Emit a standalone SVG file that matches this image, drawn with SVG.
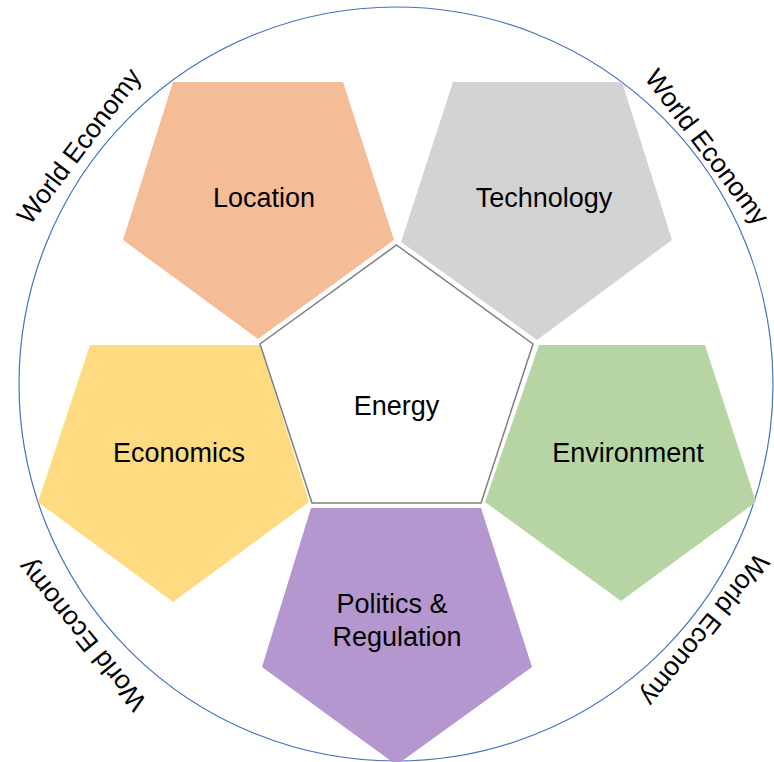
<svg xmlns="http://www.w3.org/2000/svg" width="774" height="762" viewBox="0 0 774 762">
  <style>
    .lbl { font-family: "Liberation Sans", Arial, Helvetica, sans-serif; font-size: 27px; fill: #000; text-anchor: middle; }
    .ring { font-family: "Liberation Sans", Arial, Helvetica, sans-serif; font-size: 26.5px; fill: #000; text-anchor: middle; dominant-baseline: central; }
    .pent { stroke: none; }
  </style>
  <rect width="774" height="762" fill="#ffffff"/>

  <!-- outer ring -->
  <g id="world-economy">
    <circle cx="396" cy="384" r="377" fill="none" stroke="#4472C4" stroke-width="1.2"/>
    <text class="ring" transform="translate(79,146) rotate(-53)">World Economy</text>
    <text class="ring" transform="translate(707,147) rotate(53)">World Economy</text>
    <text class="ring" transform="translate(82,635) rotate(-129)">World Economy</text>
    <text class="ring" transform="translate(705,630) rotate(129)">World Economy</text>
  </g>

  <g id="location">
    <polygon class="pent" fill="#F5BD97" points="173,82 343,82 394,240 258,339 123,240"/>
    <text class="lbl" x="264" y="207">Location</text>
  </g>

  <g id="technology">
    <polygon class="pent" fill="#D3D3D3" points="453,82 622,82 672,240 537,340 401,242"/>
    <text class="lbl" x="544" y="207">Technology</text>
  </g>

  <g id="economics">
    <polygon class="pent" fill="#FEDB80" points="90,345 260,345 309,502 173,602 38,502"/>
    <text class="lbl" x="179" y="462">Economics</text>
  </g>

  <g id="environment">
    <polygon class="pent" fill="#B7D5A4" points="539,345 705,345 756,502 621,601 485,502"/>
    <text class="lbl" x="628" y="462">Environment</text>
  </g>

  <g id="politics">
    <polygon class="pent" fill="#B597CF" points="311,508 481,508 532,667 396.5,765 262,667"/>
    <text class="lbl" x="392" y="613">Politics &amp;</text>
    <text class="lbl" x="397" y="646">Regulation</text>
  </g>

  <g id="energy">
    <polygon fill="#ffffff" stroke="#7F7F7F" stroke-width="1.5" points="396.5,245 533,344 481,503 312,503 260,344"/>
    <text class="lbl" x="396.5" y="415">Energy</text>
  </g>

  <g id="connectors"></g>
</svg>
